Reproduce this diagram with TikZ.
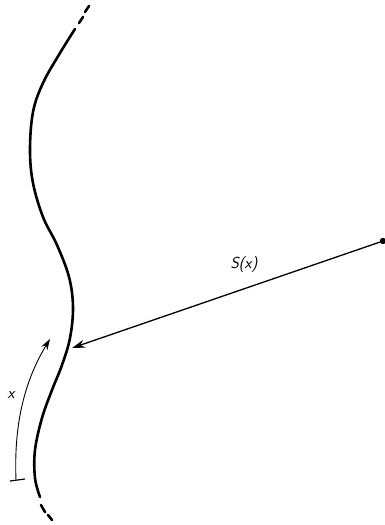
\documentclass[tikz,border=0pt]{standalone}
\usepackage{tikz}
\usetikzlibrary{arrows.meta}

\tikzset{
    wall/.style={line width=2.6pt, line cap=round},
    lbl/.style={font=\fontsize{16}{18}\selectfont\sffamily\itshape, inner sep=0pt},
}

\begin{document}
\begin{tikzpicture}[x=1pt, y=-1pt]
                \useasboundingbox (0,0) rectangle (384,525);

                \draw[wall] plot[smooth, tension=0.6] coordinates {(75,29) (60,53) (43,83) (33,112) (30,150) (33,183) (43,217) (57,245) (69,277) (73,307) (70,338) (62,365) (52,390) (42,418) (35,450) (35,478) (40,497)};
                \draw[wall] (41,505) -- (45,512);
                \draw[wall] (48,515) -- (52,520);
                \draw[wall] (79,23) -- (83,17);
                \draw[wall] (85,12) -- (89,6);

                \coordinate (foot) at (72,348);
                \coordinate (src) at (383,241);
                \fill (src) circle (3.2);
                \draw[line width=1.3pt, -{Stealth[length=13pt, width=8pt]}] (src) -- (foot);
                \node[lbl] (dist) at (244,265) {S(x)};

                \coordinate (start) at (16,480);
                \coordinate (xtip) at (50,339);
                \draw[line width=1.2pt] (10,481) -- (25,479);
                \draw[line width=0.9pt, -{Stealth[length=11pt, width=7pt]}] (start) .. controls (14,430) and (22,385) .. (xtip);
                \node[lbl] (arc) at (11,395) {x};
            \end{tikzpicture}
\end{document}
